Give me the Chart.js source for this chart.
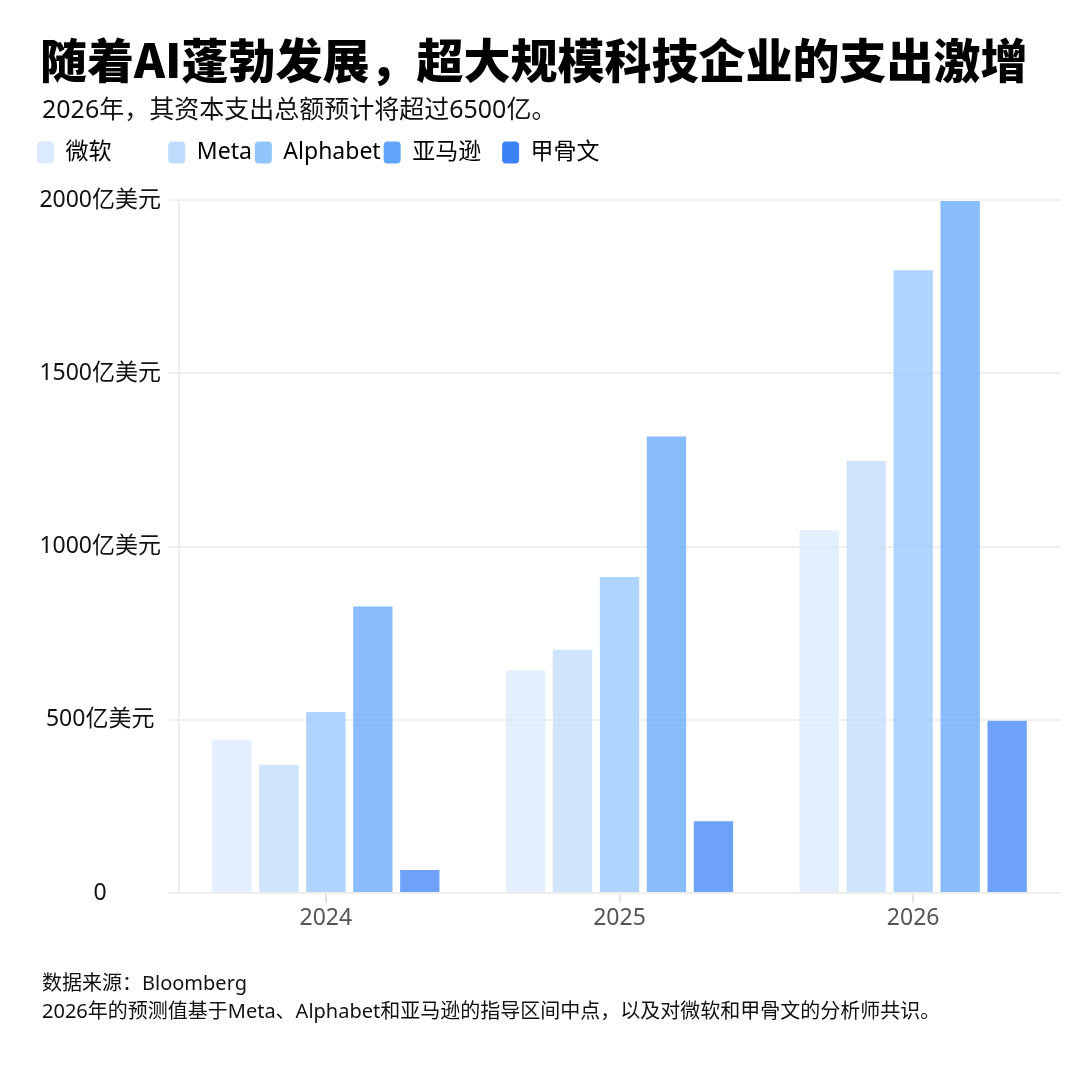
<!DOCTYPE html>
<html lang="zh-CN">
<head>
<meta charset="utf-8">
<title>超大规模科技企业的支出</title>
<script src="https://cdn.jsdelivr.net/npm/chart.js@4.4.1/dist/chart.umd.min.js"></script>
<style>
  html, body { margin: 0; padding: 0; background: #fff; }
  #wrap { position: relative; width: 1080px; height: 1080px; overflow: hidden; }
  #chart { position: absolute; left: 0; top: 0; }
  .txt { position: absolute; left: 40px; color: #111; white-space: nowrap; font-family: 'Noto Sans', 'Noto Sans CJK SC', sans-serif; }
  #title { top: 30px; font-family: 'Noto Sans CJK SC', sans-serif; font-size: 47px; font-weight: 900; line-height: 56px; color: #000; }
  #subtitle { top: 93px; left: 42px; font-size: 25px; line-height: 30px; }
  #footer { top: 969px; left: 42px; font-size: 20px; line-height: 28px; }
</style>
</head>
<body>
<div id="wrap">
  <canvas id="chart" width="1080" height="1080"></canvas>
  <div id="title" class="txt">随着AI蓬勃发展，超大规模科技企业的支出激增</div>
  <div id="subtitle" class="txt">2026年，其资本支出总额预计将超过6500亿。</div>
  <div id="footer" class="txt">数据来源：Bloomberg<br>2026年的预测值基于Meta、Alphabet和亚马逊的指导区间中点，以及对微软和甲骨文的分析师共识。</div>
</div>
<script>
// values in 亿美元
const years = ['2024', '2025', '2026']
const companies = ['微软', 'Meta', 'Alphabet', '亚马逊', '甲骨文']
const microsoft = [445, 645, 1050]
const meta = [373, 705, 1250]
const alphabet = [525, 915, 1800]
const amazon = [830, 1320, 2000]
const oracle = [69, 210, 500]
const yTicks = [0, 500, 1000, 1500, 2000]

const colours = ['#dbeafe', '#bfdbfe', '#93c5fd', '#60a5fa', '#3b82f6']
const series = [microsoft, meta, alphabet, amazon, oracle]
// extra trailing space after some legend items, so the legend spacing matches
const legendTail = [9, 0, 0, 3, 0]

function withAlpha(hex, a) {
  const n = parseInt(hex.slice(1), 16)
  return `rgba(${(n >> 16) & 255}, ${(n >> 8) & 255}, ${n & 255}, ${a})`
}

const baseFont = "'Noto Sans', 'Noto Sans CJK SC', sans-serif"

// push the plot down a bit below the legend
const legendMargin = {
  id: 'legendMargin',
  beforeLayout(chart) {
    const legend = chart.legend
    if (!legend || legend._patched) return
    const fit = legend.fit
    legend.fit = function() {
      fit.bind(legend)()
      this.height += 26
    }
    legend._patched = true
  }
}

new Chart(document.getElementById('chart'), {
  type: 'bar',
  data: {
    labels: years,
    datasets: companies.map((name, i) => ({
      label: name,
      data: series[i],
      backgroundColor: withAlpha(colours[i], 0.74),
      borderColor: 'rgba(255, 255, 255, 0.55)',
      borderWidth: 1,
      categoryPercentage: 0.8,
      barPercentage: 0.88
    }))
  },
  options: {
    responsive: false,
    animation: false,
    layout: { padding: { top: 138, left: 34, right: 20, bottom: 147 } },
    plugins: {
      tooltip: { enabled: false },
      legend: {
        position: 'top',
        align: 'start',
        labels: {
          font: { family: baseFont, size: 23 },
          color: '#111',
          boxWidth: 17,
          boxHeight: 22,
          padding: 3,
          useBorderRadius: true,
          borderRadius: 4,
          generateLabels(chart) {
            return chart.data.datasets.map((ds, i) => ({
              text: ds.label + ' '.repeat(legendTail[i]),
              fillStyle: colours[i],
              strokeStyle: colours[i],
              lineWidth: 0,
              borderRadius: 4,
              hidden: false,
              datasetIndex: i
            }))
          }
        }
      }
    },
    scales: {
      x: {
        grid: {
          display: true,
          drawOnChartArea: false,
          offset: false,
          tickLength: 10,
          color: '#e4e4e4',
          lineWidth: 2
        },
        border: { display: true, color: '#eeeeee', width: 2 },
        ticks: { color: '#555', font: { family: baseFont, size: 23 }, padding: 2 },
        afterFit(scale) { scale.height = 40 }
      },
      y: {
        min: 0,
        max: 2000,
        afterBuildTicks(scale) { scale.ticks = yTicks.map(v => ({ value: v })) },
        grid: { color: '#eeeeee', lineWidth: 2, tickLength: 10 },
        border: { display: true, color: '#eeeeee', width: 2 },
        ticks: {
          color: '#111',
          crossAlign: 'center',
          padding: 8,
          font: { family: baseFont, size: 23 },
          callback: v => v === 0 ? '0' : v + '亿美元'
        },
        afterFit(scale) { scale.width = 145 }
      }
    }
  },
  plugins: [legendMargin]
})
</script>
</body>
</html>
